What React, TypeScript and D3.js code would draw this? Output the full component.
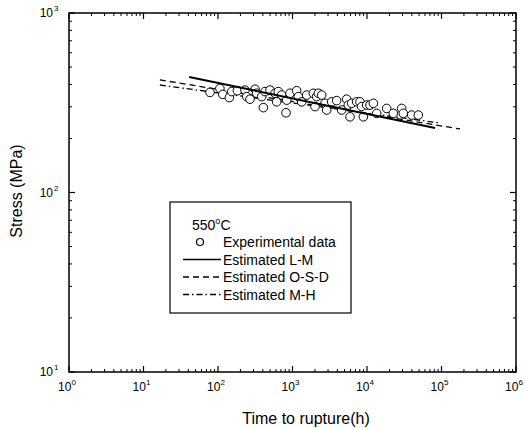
import React from 'react';
import * as d3 from 'd3';

// experimental rupture data, 550°C: [time (h), stress (MPa)]
const expData: [number, number][] = [
  [78, 361], [106, 380], [116, 352], [142, 338], [153, 365], [182, 369],
  [230, 372], [243, 342], [269, 331], [314, 376], [331, 357], [386, 342],
  [406, 297], [427, 365], [499, 372], [582, 357], [645, 365], [613, 320],
  [716, 349], [818, 278], [836, 327], [925, 357], [1137, 369], [1197, 342],
  [1328, 320], [1550, 349], [1905, 357], [2004, 301], [2110, 342], [2223, 357],
  [2462, 349], [2728, 314], [2875, 288], [3355, 320], [3918, 325], [4573, 288],
  [5337, 331], [5610, 307], [5913, 264], [6227, 314], [7270, 320], [8050, 320],
  [8486, 301], [8933, 264], [9905, 307], [10970, 307], [12170, 314], [13490, 276],
  [18370, 294], [22550, 276], [29220, 294], [30710, 276], [39810, 270], [48870, 270],
];

// estimated curves
const lmLine: [number, number][] = [[41, 440], [82000, 229]];
const osdLine: [number, number][] = [[16.6, 424], [177000, 226]];
const mhLine: [number, number][] = [[16.6, 397], [95000, 244]];

const xDecades = [0, 1, 2, 3, 4, 5, 6];
const yDecades = [1, 2, 3];

const legendItems = [
  { label: 'Experimental data', kind: 'marker' },
  { label: 'Estimated L-M', kind: 'solid' },
  { label: 'Estimated O-S-D', kind: 'dash' },
  { label: 'Estimated M-H', kind: 'dashdot' },
];

const margin = { left: 69, right: 516, top: 13, bottom: 372 };
const FONT = 'Liberation Sans, Arial, sans-serif';

const dashFor = (kind: string) =>
  kind === 'dash' ? '6,4' : kind === 'dashdot' ? '6,3,1.5,3' : undefined;

export default function App() {
  const x = d3.scaleLog().domain([1, 1e6]).range([margin.left, margin.right]);
  const y = d3.scaleLog().domain([10, 1000]).range([margin.bottom, margin.top]);

  const line = d3.line<[number, number]>().x(d => x(d[0])).y(d => y(d[1]));

  // minor ticks
  const xMinor: number[] = [];
  xDecades.slice(0, -1).forEach(e => { for (let k = 2; k <= 9; k++) xMinor.push(k * Math.pow(10, e)); });
  const yMinor: number[] = [];
  yDecades.slice(0, -1).forEach(e => { for (let k = 2; k <= 9; k++) yMinor.push(k * Math.pow(10, e)); });

  const lg = { x: 170, y: 202, w: 181, h: 111 };

  return (
    <svg width={525} height={428} style={{ position: 'absolute', left: 0, top: 0, background: '#fff' }}
      fontFamily={FONT}>
      <rect width={525} height={428} fill="#fff" />

      {/* frame */}
      <rect x={margin.left} y={margin.top} width={margin.right - margin.left}
        height={margin.bottom - margin.top} fill="none" stroke="#000" strokeWidth={1.5} />

      {/* x ticks bottom & top */}
      {xDecades.map(e => {
        const px = x(Math.pow(10, e));
        return (
          <g key={'xm' + e}>
            <line x1={px} x2={px} y1={margin.bottom} y2={margin.bottom - 6} stroke="#000" strokeWidth={1.2} />
            <line x1={px} x2={px} y1={margin.top} y2={margin.top + 6} stroke="#000" strokeWidth={1.2} />
            <text x={px - 2} y={391} fontSize={12} textAnchor="middle">10
              <tspan fontSize={8} dy={-6}>{e}</tspan>
            </text>
          </g>
        );
      })}
      {xMinor.map((v, i) => (
        <g key={'xn' + i}>
          <line x1={x(v)} x2={x(v)} y1={margin.bottom} y2={margin.bottom - 3} stroke="#000" strokeWidth={1} />
          <line x1={x(v)} x2={x(v)} y1={margin.top} y2={margin.top + 3} stroke="#000" strokeWidth={1} />
        </g>
      ))}

      {/* y ticks left & right */}
      {yDecades.map(e => {
        const py = y(Math.pow(10, e));
        return (
          <g key={'ym' + e}>
            <line x1={margin.left} x2={margin.left + 6} y1={py} y2={py} stroke="#000" strokeWidth={1.2} />
            <line x1={margin.right} x2={margin.right - 6} y1={py} y2={py} stroke="#000" strokeWidth={1.2} />
            <text x={53} y={py + 4} fontSize={12} textAnchor="end">10</text>
            <text x={54} y={py - 2} fontSize={8} textAnchor="start">{e}</text>
          </g>
        );
      })}
      {yMinor.map((v, i) => (
        <g key={'yn' + i}>
          <line x1={margin.left} x2={margin.left + 3} y1={y(v)} y2={y(v)} stroke="#000" strokeWidth={1} />
          <line x1={margin.right} x2={margin.right - 3} y1={y(v)} y2={y(v)} stroke="#000" strokeWidth={1} />
        </g>
      ))}

      {/* axis titles */}
      <text x={306} y={424} fontSize={16} textAnchor="middle">Time to rupture(h)</text>
      <text transform="translate(22,191) rotate(-90)" fontSize={16} textAnchor="middle">Stress (MPa)</text>

      {/* estimated lines */}
      <path d={line(osdLine) || ''} fill="none" stroke="#000" strokeWidth={1.3} strokeDasharray="6,4" />
      <path d={line(mhLine) || ''} fill="none" stroke="#000" strokeWidth={1.3} strokeDasharray="6,3,1.5,3" />

      {/* experimental points */}
      {expData.map((d, i) => (
        <circle key={i} cx={x(d[0])} cy={y(d[1])} r={4.3} fill="#fff" stroke="#000" strokeWidth={1} />
      ))}

      <path d={line(lmLine) || ''} fill="none" stroke="#000" strokeWidth={2} />

      {/* legend */}
      <rect x={lg.x} y={lg.y} width={lg.w} height={lg.h} fill="#fff" stroke="#000" strokeWidth={1.2} />
      <text x={192} y={230} fontSize={14}>550<tspan fontSize={9} dy={-6}>o</tspan><tspan dy={6}>C</tspan></text>
      {legendItems.map((it, i) => {
        const cy = 242 + i * 17.5;
        return (
          <g key={it.label}>
            {it.kind === 'marker'
              ? <circle cx={200} cy={cy} r={3.5} fill="#fff" stroke="#000" strokeWidth={1.2} />
              : <line x1={183} x2={221} y1={cy} y2={cy} stroke="#000" strokeWidth={1.3}
                  strokeDasharray={dashFor(it.kind)} />}
            <text x={223} y={cy + 5} fontSize={14}>{it.label}</text>
          </g>
        );
      })}
    </svg>
  );
}
